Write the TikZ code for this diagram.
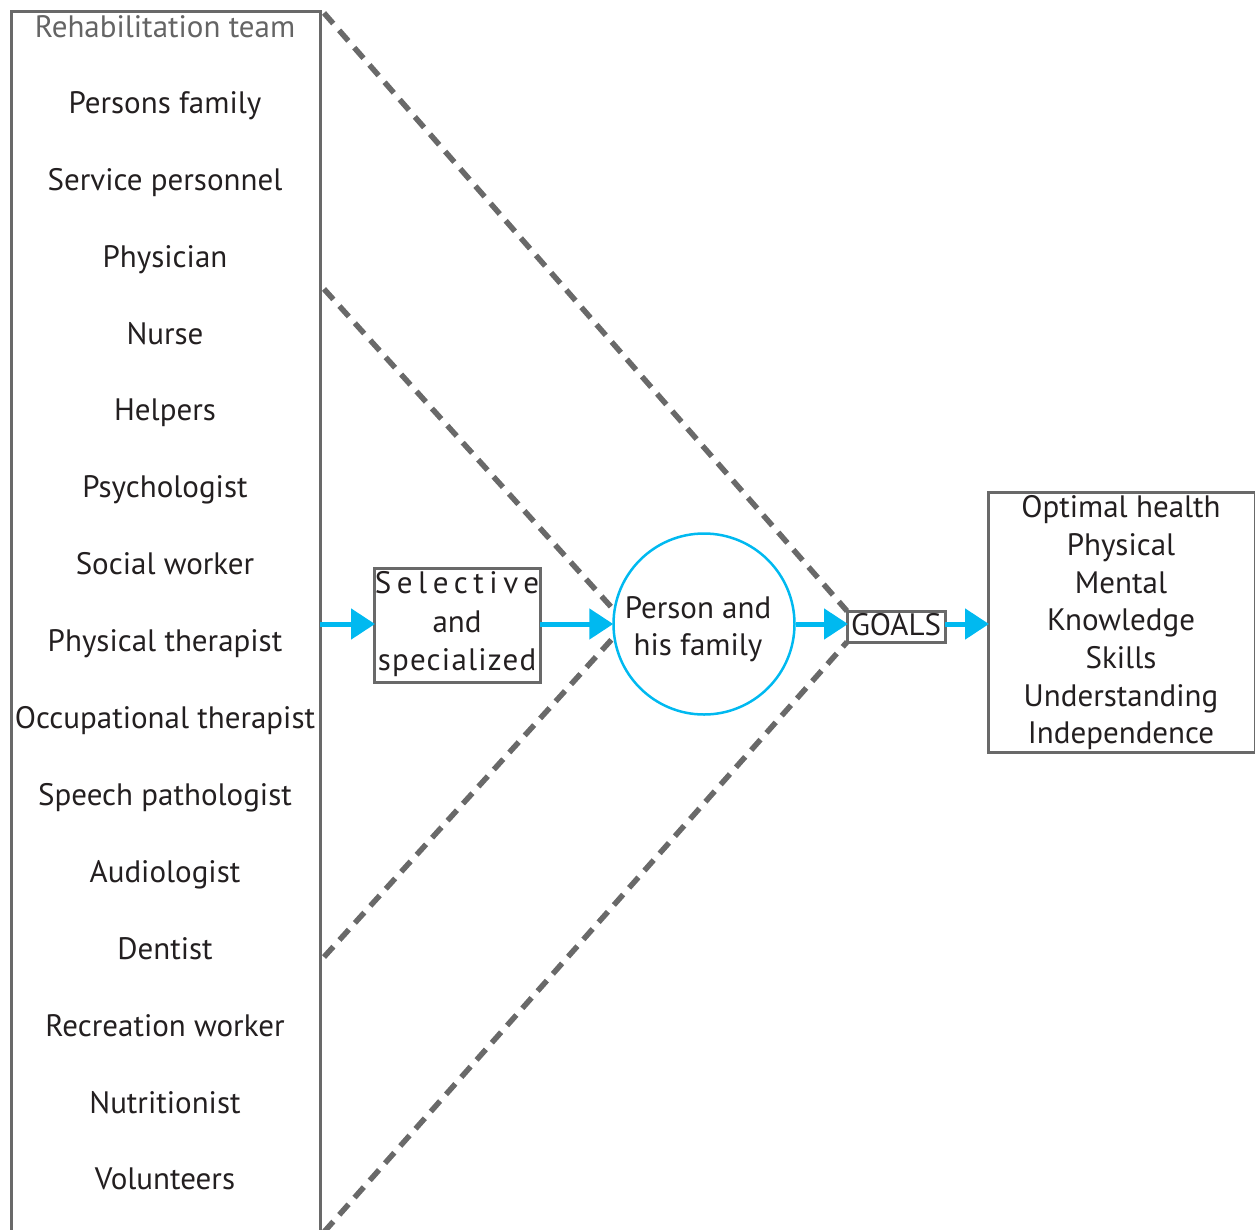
\documentclass[tikz,border=0pt]{standalone}
\usepackage{fontspec}
\setmainfont{PT Sans}
\usetikzlibrary{arrows.meta}
\definecolor{lgray}{RGB}{105,105,105}
\definecolor{tgray}{RGB}{100,100,100}
\definecolor{cyanb}{RGB}{0,185,240}
\definecolor{txt}{RGB}{35,31,32}
\begin{document}
\begin{tikzpicture}[x=1pt,y=-1pt,
  every node/.style={font=\fontsize{31}{38}\selectfont, text=txt},
  item/.style={anchor=base, inner sep=0pt},
  box/.style={draw=lgray, line width=3pt, inner sep=1pt},
  flow/.style={draw=cyanb, line width=5pt, -{Triangle[length=24pt,width=30pt]}, shorten >=-1pt},
  dash line/.style={draw=lgray, line width=5.5pt, dash pattern=on 14pt off 9pt}]
\useasboundingbox (0,0) rectangle (1255,1229);
% left box (open at bottom)
\draw[lgray, line width=3pt] (11,1240) -- (11,11) -- (320,11) -- (320,1240);
\node[item, text=tgray] (title) at (165,37) {Rehabilitation team};
\node[item] (n1) at (165,113.3) {Persons family};
\node[item] (n2) at (165,190.2) {Service personnel};
\node[item] (n3) at (165,267.1) {Physician};
\node[item] (n4) at (165,344) {Nurse};
\node[item] (n5) at (165,420.9) {Helpers};
\node[item] (n6) at (165,497.8) {Psychologist};
\node[item] (n7) at (165,574.7) {Social worker};
\node[item] (n8) at (165,651.6) {Physical therapist};
\node[item] (n9) at (165,728.5) {Occupational therapist};
\node[item] (n10) at (165,805.4) {Speech pathologist};
\node[item] (n11) at (165,882.3) {Audiologist};
\node[item] (n12) at (165,959.2) {Dentist};
\node[item] (n13) at (165,1036.1) {Recreation worker};
\node[item] (n14) at (165,1113) {Nutritionist};
\node[item] (n15) at (165,1189.9) {Volunteers};
\coordinate (Lout) at (320,624);
% selective box
\draw[box] (374,568) rectangle (540,682);
\coordinate (selW) at (374,624);
\coordinate (selE) at (540,624);
\node[item] (sel1) at (457,593) {\addfontfeatures{LetterSpace=18}Selective};
\node[item] (sel2) at (457,632) {and};
\node[item] (sel3) at (457,670) {\addfontfeatures{LetterSpace=4}specialized};
% circle
\node[draw=cyanb, line width=2.5pt, circle, minimum size=181pt, inner sep=0pt] (person) at (704,624) {};
\node[item] (p1) at (698,618) {Person and};
\node[item] (p2) at (698,655) {his family};
% goals
\draw[box] (847,611) rectangle (945,642);
\coordinate (goW) at (847,624);
\coordinate (goE) at (945,624);
\node[item] (goals) at (896,635) {GOALS};
% right box
\draw[box] (988,492) rectangle (1255,752);
\coordinate (rW) at (988,624);
\node[item] (r1) at (1121,517.7) {Optimal health};
\node[item] (r2) at (1121,555.4) {Physical};
\node[item] (r3) at (1121,593.1) {Mental};
\node[item] (r4) at (1121,630.8) {Knowledge};
\node[item] (r5) at (1121,668.5) {Skills};
\node[item] (r6) at (1121,706.2) {Understanding};
\node[item] (r7) at (1121,743.9) {Independence};
% arrows
\draw[flow] (Lout) -- (selW);
\draw[flow] (selE) -- (person.west);
\draw[flow] (person.east) -- (goW);
\draw[flow] (goE) -- (rW);
% dashed lines
\coordinate (d1a) at (324,13);
\coordinate (d1b) at (847,611);
\coordinate (d2a) at (324,289);
\coordinate (d2b) at (613,609);
\coordinate (d3a) at (324,957);
\coordinate (d3b) at (613,638);
\coordinate (d4a) at (324,1232);
\coordinate (d4b) at (847,642);
\draw[dash line] (d1a) -- (d1b);
\draw[dash line] (d2a) -- (d2b);
\draw[dash line] (d3a) -- (d3b);
\draw[dash line] (d4a) -- (d4b);
\end{tikzpicture}
\end{document}
